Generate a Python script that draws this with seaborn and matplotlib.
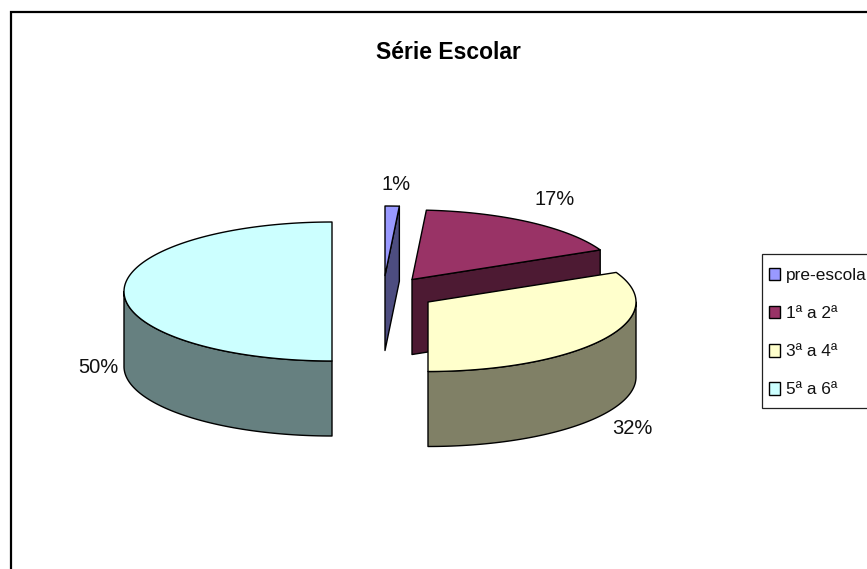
import numpy as np
import matplotlib
matplotlib.use("Agg")
import matplotlib.pyplot as plt
from matplotlib.patches import Patch, Polygon, Rectangle
import seaborn as sns

categories = ["pre-escola", "1ª a 2ª", "3ª a 4ª", "5ª a 6ª"]
values = [1.1, 16.9, 32, 50]
title = "Série Escolar"
top_colors = ["#9999FF", "#993366", "#FFFFCC", "#CCFFFF"]
side_colors = ["#4D4D80", "#4D1A33", "#808066", "#668080"]

# layout (pixels of the canvas)
W, H = 867, 569
RX, RY, DEPTH = 208, 69.5, 75
apexes = [(385, 275.5), (412, 279.5), (428, 302), (332, 291.5)]
label_pos = [(396, 184), (555, 199), (632, 428), (98, 367)]

sns.set_theme(style="white")
plt.rcParams["font.family"] = ["Liberation Sans", "DejaVu Sans"]
palette = sns.color_palette(top_colors)

fig = plt.figure(figsize=(W / 100, H / 100), dpi=100)
ax = fig.add_axes([0, 0, 1, 1])
ax.set_xlim(0, W)
ax.set_ylim(H, 0)
ax.axis("off")


def rim(cx, cy, a0, a1, dy=0.0):
    t = np.radians(np.linspace(a0, a1, max(int(abs(a1 - a0)) * 2, 2)))
    return np.column_stack([cx + RX * np.sin(t), cy - RY * np.cos(t) + dy])


edges = np.cumsum([0] + values) * 3.6
order = [3, 0, 1, 2]
for i in order:
    a0, a1 = edges[i], edges[i + 1]
    cx, cy = apexes[i]
    style = dict(edgecolor="black", linewidth=1.0, joinstyle="round")
    # outer wall, only the part turned towards the viewer
    w0, w1 = max(a0, 90), min(a1, 270)
    if w1 > w0:
        up = rim(cx, cy, w0, w1)
        down = rim(cx, cy, w0, w1, DEPTH)[::-1]
        ax.add_patch(Polygon(np.vstack([up, down]), closed=True,
                             facecolor=side_colors[i], **style))
    # cut face at the end of a slice lying in the right half
    if a1 < 170:
        end = rim(cx, cy, a1, a1)[0]
        face = [(cx, cy), end, (end[0], end[1] + DEPTH), (cx, cy + DEPTH)]
        ax.add_patch(Polygon(face, closed=True, facecolor=side_colors[i], **style))
    # top face
    top = np.vstack([[(cx, cy)], rim(cx, cy, a0, a1)])
    ax.add_patch(Polygon(top, closed=True, facecolor=palette[i], **style))

for v, (x, y) in zip(values, label_pos):
    ax.text(x, y, f"{round(v)}%", ha="center", va="center", fontsize=14.5, color="#111111")

ax.text(448, 52, title, ha="center", va="center", fontsize=16.5,
        fontweight="bold", color="black")

# chart frame, open at the bottom and right
ax.plot([10.5, 10.5, W], [H, 12, 12], color="black", lw=1.6, solid_joinstyle="miter")

# legend frame runs past the right edge of the canvas
ax.add_patch(Rectangle((762, 254), 120, 154, facecolor="white", edgecolor="#222222",
                       linewidth=0.9, zorder=3))
handles = [Patch(facecolor=c, edgecolor="black", linewidth=1.0) for c in palette]
leg = ax.legend(handles, categories, loc="upper left",
                bbox_to_anchor=(769 / W, 1 - 267.5 / H), bbox_transform=fig.transFigure,
                borderaxespad=0, borderpad=0, fontsize=12.4, frameon=False,
                labelspacing=1.33, handlelength=0.63, handleheight=0.75,
                handletextpad=0.33, labelcolor="#111111")
leg.set_zorder(4)

fig.savefig("out.png", dpi=100)
